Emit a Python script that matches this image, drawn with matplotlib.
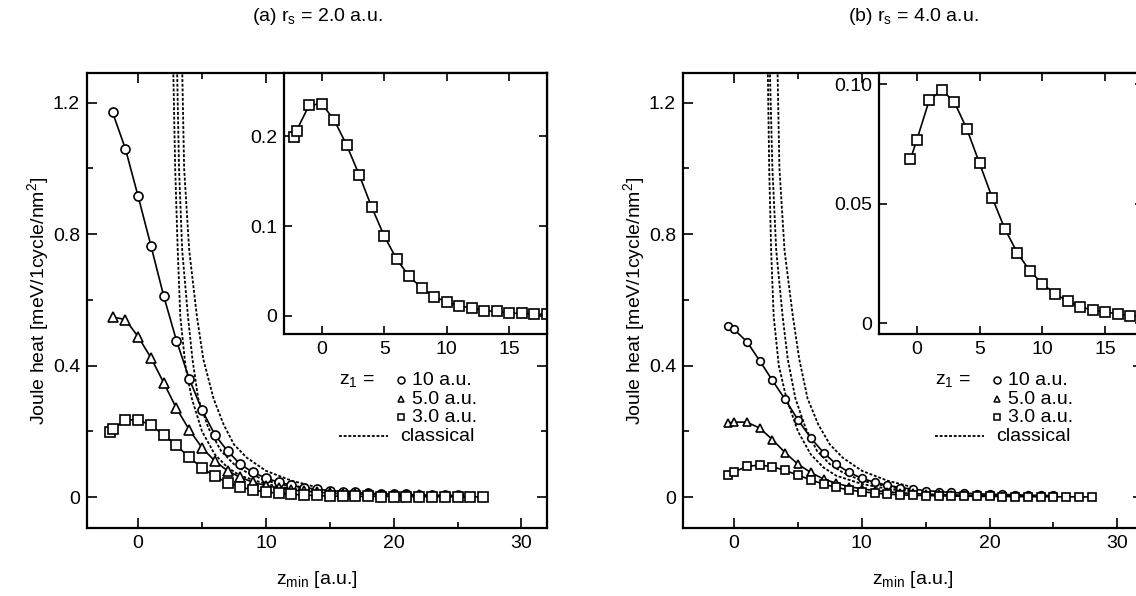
import numpy as np
import matplotlib
matplotlib.use("Agg")
import matplotlib.pyplot as plt
from matplotlib.ticker import MultipleLocator

plt.rcParams['font.family'] = ['Liberation Sans', 'DejaVu Sans']
plt.rcParams['mathtext.default'] = 'regular'

# ---- panel (a) r_s = 2.0 a.u. ----
x_circ_a = [-2, -1, 0, 1, 2, 3, 4, 5, 6, 7, 8, 9, 10, 11, 12, 13, 14, 15, 16, 17,
            18, 19, 20, 21, 22, 23, 24, 25]
y_circ_a = [1.17, 1.06, 0.915, 0.765, 0.612, 0.476, 0.36, 0.265, 0.19, 0.14, 0.10,
            0.075, 0.058, 0.045, 0.036, 0.029, 0.024, 0.02, 0.017, 0.014, 0.012,
            0.01, 0.009, 0.008, 0.007, 0.006, 0.005, 0.005]
x_tri_a = [-2, -1, 0, 1, 2, 3, 4, 5, 6, 7, 8, 9, 10, 11, 12, 13, 14, 15, 16, 17,
           18, 19, 20, 21, 22, 23, 24]
y_tri_a = [0.548, 0.54, 0.488, 0.424, 0.348, 0.27, 0.205, 0.15, 0.11, 0.08, 0.06,
           0.045, 0.035, 0.028, 0.022, 0.018, 0.015, 0.012, 0.01, 0.009, 0.008,
           0.007, 0.006, 0.005, 0.005, 0.004, 0.004]
x_sq_a = [-2.2, -2, -1, 0, 1, 2, 3, 4, 5, 6, 7, 8, 9, 10, 11, 12, 13, 14, 15, 16,
          17, 18, 19, 20, 21, 22, 23, 24, 25, 26, 27]
y_sq_a = [0.199, 0.206, 0.234, 0.236, 0.218, 0.19, 0.157, 0.121, 0.089, 0.063,
          0.044, 0.031, 0.021, 0.016, 0.011, 0.009, 0.006, 0.005, 0.003, 0.003,
          0.002, 0.002, 0.0018, 0.0015, 0.0013, 0.0011, 0.001, 0.0009, 0.0008,
          0.0007, 0.0006]
# classical curves (three dotted lines)
x_cl_a = [[2.75, 2.9, 3.1, 3.3, 3.7, 4.2, 5.0, 6.0, 7.0, 8.0, 10, 12, 14],
          [3.05, 3.2, 3.45, 3.9, 4.25, 4.7, 5.5, 6.5, 7.5, 8.5, 10, 12, 14],
          [3.45, 3.6, 4.0, 4.6, 5.1, 5.9, 6.7, 7.5, 8.5, 10, 12, 14]]
y_cl_a = [[1.30, 1.0, 0.75, 0.55, 0.40, 0.30, 0.20, 0.13, 0.09, 0.065, 0.04, 0.025, 0.017],
          [1.30, 1.0, 0.75, 0.55, 0.42, 0.30, 0.21, 0.14, 0.10, 0.075, 0.05, 0.032, 0.02],
          [1.30, 1.0, 0.75, 0.55, 0.42, 0.30, 0.22, 0.16, 0.12, 0.08, 0.05, 0.03]]

# ---- panel (b) r_s = 4.0 a.u. ----
x_circ_b = [-0.5, 0, 1, 2, 3, 4, 5, 6, 7, 8, 9, 10, 11, 12, 13, 14, 15, 16, 17, 18,
            19, 20, 21, 22, 23, 24, 25]
y_circ_b = [0.52, 0.51, 0.473, 0.415, 0.355, 0.297, 0.235, 0.18, 0.135, 0.10, 0.075,
            0.057, 0.045, 0.036, 0.029, 0.024, 0.02, 0.017, 0.014, 0.012, 0.01,
            0.009, 0.008, 0.007, 0.006, 0.005, 0.005]
x_tri_b = [-0.5, 0, 1, 2, 3, 4, 5, 6, 7, 8, 9, 10, 11, 12, 13, 14, 15, 16, 17, 18,
           19, 20, 21, 22, 23, 24, 25]
y_tri_b = [0.225, 0.228, 0.228, 0.21, 0.175, 0.135, 0.10, 0.075, 0.055, 0.042, 0.032,
           0.025, 0.02, 0.016, 0.013, 0.011, 0.009, 0.008, 0.007, 0.006, 0.005,
           0.005, 0.004, 0.004, 0.003, 0.003, 0.003]
x_sq_b = [-0.5, 0, 1, 2, 3, 4, 5, 6, 7, 8, 9, 10, 11, 12, 13, 14, 15, 16, 17, 18,
          19, 20, 21, 22, 23, 24, 25, 26, 27, 28]
y_sq_b = [0.0685, 0.0765, 0.0933, 0.0975, 0.0924, 0.081, 0.0668, 0.0525, 0.0395,
          0.0294, 0.0218, 0.0164, 0.0122, 0.0092, 0.0067, 0.0055, 0.0046, 0.0038,
          0.003, 0.0026, 0.0022, 0.0019, 0.0016, 0.0014, 0.0012, 0.001, 0.0009,
          0.0008, 0.0007, 0.0006]
x_cl_b = [[2.64, 2.75, 2.9, 3.1, 3.5, 4.1, 5.0, 6.0, 7.0, 8.0, 10, 12, 14],
          [2.8, 3.0, 3.3, 3.8, 4.2, 4.8, 5.6, 6.5, 7.5, 8.5, 10, 12, 14],
          [3.4, 3.55, 3.95, 4.6, 5.1, 5.75, 6.6, 7.5, 8.5, 10, 12, 14]]
y_cl_b = [[1.30, 1.0, 0.75, 0.55, 0.40, 0.30, 0.20, 0.13, 0.09, 0.065, 0.04, 0.025, 0.017],
          [1.30, 1.0, 0.75, 0.55, 0.42, 0.30, 0.21, 0.14, 0.10, 0.075, 0.05, 0.032, 0.02],
          [1.30, 1.0, 0.75, 0.55, 0.42, 0.30, 0.22, 0.16, 0.12, 0.08, 0.05, 0.03]]

titles = ['(a) r$_s$ = 2.0 a.u.', '(b) r$_s$ = 4.0 a.u.']
legend_labels = ['10 a.u.', '5.0 a.u.', '3.0 a.u.']

DOT = (0, (1.6, 1.0))


def style_axes(ax, fs):
    ax.tick_params(which='both', direction='in', top=True, right=True,
                   labelsize=fs, width=1.2, pad=5)
    ax.tick_params(which='major', length=7)
    ax.tick_params(which='minor', length=4)
    for s in ax.spines.values():
        s.set_linewidth(1.6)


def draw_panel(main_rect, inset_rect, xc, yc, xt, yt, xs, ys, xcl, ycl,
               title, inset_ylim, inset_yticks, inset_ylabels, small_ms):
    ax = fig.add_axes(main_rect)
    for xx, yy in zip(xcl, ycl):
        ax.plot(xx, yy, color='k', lw=1.3, linestyle=DOT)
    ms = 5.5 if small_ms else 6.5
    ax.plot(xc, yc, '-', color='k', lw=1.2, marker='o', ms=ms,
            mfc='white', mec='k', mew=1.2)
    ax.plot(xt, yt, '-', color='k', lw=1.2, marker='^', ms=ms,
            mfc='white', mec='k', mew=1.2)
    ax.plot(xs, ys, '-', color='k', lw=1.2, marker='s', ms=ms,
            mfc='white', mec='k', mew=1.2)
    ax.set_xlim(-4, 32)
    ax.set_ylim(-0.094, 1.29)
    ax.set_xticks([0, 10, 20, 30])
    ax.xaxis.set_minor_locator(MultipleLocator(5))
    ax.set_yticks([0, 0.4, 0.8, 1.2])
    ax.set_yticklabels(['0', '0.4', '0.8', '1.2'])
    ax.yaxis.set_minor_locator(MultipleLocator(0.2))
    style_axes(ax, 14)
    ax.set_xlabel('z$_{min}$ [a.u.]', fontsize=14, labelpad=12)
    ax.set_ylabel('Joule heat [meV/1cycle/nm$^2$]', fontsize=14, labelpad=1)
    fig.text(main_rect[0] + main_rect[2] / 2, 0.972, title, ha='center',
             va='center', fontsize=14)

    # legend drawn as text
    lx, mx, tx = 0.548, 0.683, 0.706
    rows = [0.325, 0.283, 0.243]
    ax.text(lx, rows[0], 'z$_1$ =', transform=ax.transAxes, fontsize=14,
            va='center', ha='left')
    for mk, yr, lab in zip(['o', '^', 's'], rows, legend_labels):
        ax.plot([mx], [yr], marker=mk, ms=5, mfc='white', mec='k', mew=1.1,
                transform=ax.transAxes, linestyle='none')
        ax.text(tx, yr, lab, transform=ax.transAxes, fontsize=14,
                va='center', ha='left')
    ax.plot([0.548, 0.655], [0.202, 0.202], color='k', lw=1.3, linestyle=DOT,
            transform=ax.transAxes)
    ax.text(0.68, 0.202, 'classical', transform=ax.transAxes, fontsize=14,
            va='center', ha='left')

    ins = fig.add_axes(inset_rect)
    ins.plot(xs, ys, '-', color='k', lw=1.2, marker='s', ms=6.5,
             mfc='white', mec='k', mew=1.2)
    ins.set_xlim(-3, 18)
    ins.set_ylim(*inset_ylim)
    ins.set_xticks([0, 5, 10, 15])
    ins.set_yticks(inset_yticks)
    ins.set_yticklabels(inset_ylabels)
    style_axes(ins, 14)
    ins.tick_params(which='major', length=6)
    ins.set_facecolor('white')
    return ax, ins


fig = plt.figure(figsize=(11.36, 5.96), dpi=100)

draw_panel([0.0766, 0.1141, 0.4049, 0.7634], [0.25, 0.4396, 0.2315, 0.4379],
           x_circ_a, y_circ_a, x_tri_a, y_tri_a, x_sq_a, y_sq_a, x_cl_a, y_cl_a,
           titles[0], (-0.02, 0.27), [0, 0.1, 0.2], ['0', '0.1', '0.2'], False)
draw_panel([0.6012, 0.1141, 0.4049, 0.7634], [0.7738, 0.4396, 0.2323, 0.4379],
           x_circ_b, y_circ_b, x_tri_b, y_tri_b, x_sq_b, y_sq_b, x_cl_b, y_cl_b,
           titles[1], (-0.0046, 0.1046), [0, 0.05, 0.10], ['0', '0.05', '0.10'], True)

fig.savefig('out.png', dpi=100)
